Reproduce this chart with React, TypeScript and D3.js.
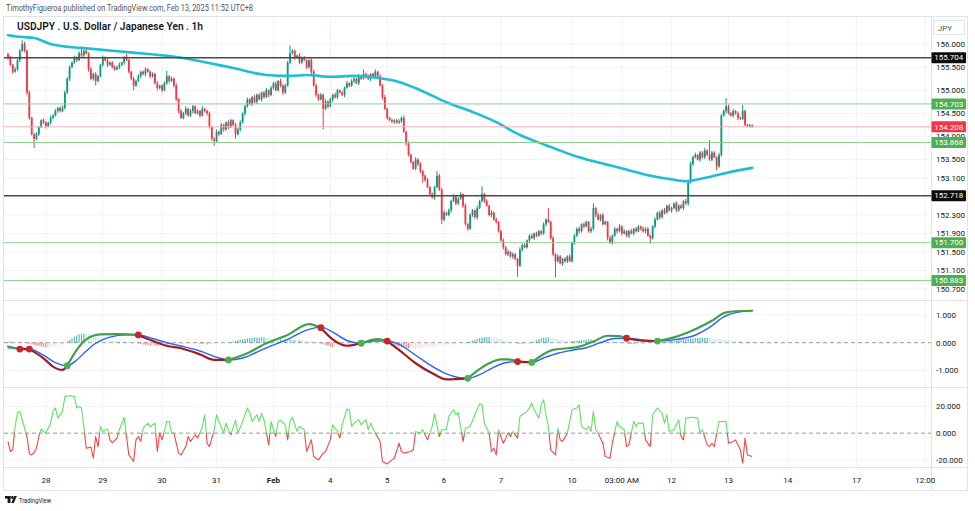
import React from 'react';
import * as d3 from 'd3';

// hourly closes, bar 0 = Jan 27 ~08:00
const closes = [
  155.70, 155.55, 155.40, 155.45, 155.65, 155.85, 156.00, 155.85, 154.95, 154.40,
  154.05, 153.95, 154.05, 154.20, 154.35, 154.30, 154.22, 154.30, 154.40, 154.45,
  154.55, 154.62, 154.55, 154.62, 154.95, 155.25, 155.50, 155.60, 155.70, 155.65,
  155.80, 155.75, 155.85, 155.80, 155.45, 155.25, 155.35, 155.20, 155.30, 155.55,
  155.70, 155.65, 155.55, 155.60, 155.50, 155.45, 155.50, 155.55, 155.60, 155.70,
  155.65, 155.40, 155.25, 155.10, 155.20, 155.30, 155.40, 155.35, 155.45, 155.40,
  155.30, 155.35, 155.15, 155.05, 155.10, 155.00, 155.15, 155.30, 155.20, 155.25,
  155.10, 154.80, 154.55, 154.40, 154.50, 154.60, 154.45, 154.55, 154.65, 154.50,
  154.55, 154.45, 154.60, 154.55, 154.50, 154.20, 153.95, 153.90, 154.10, 154.05,
  154.25, 154.15, 154.30, 154.20, 154.35, 154.25, 154.05, 154.15, 154.30, 154.50,
  154.65, 154.80, 154.70, 154.85, 154.75, 154.90, 154.80, 154.95, 154.85, 155.00,
  154.90, 155.05, 155.15, 155.00, 155.20, 155.10, 154.95, 155.10, 155.60, 155.80,
  155.85, 155.70, 155.75, 155.60, 155.70, 155.65, 155.50, 155.65, 155.40, 155.10,
  154.90, 154.80, 154.90, 154.60, 154.75, 154.65, 154.80, 154.90, 154.85, 155.00,
  154.95, 154.90, 155.05, 155.15, 155.10, 155.20, 155.25, 155.15, 155.30, 155.25,
  155.35, 155.30, 155.25, 155.35, 155.30, 155.40, 155.30, 155.10, 154.85, 154.60,
  154.40, 154.35, 154.32, 154.35, 154.30, 154.33, 154.40, 154.10, 153.85, 153.60,
  153.45, 153.30, 153.50, 153.40, 153.25, 153.15, 153.05, 152.90, 152.75, 152.68,
  152.90, 153.15, 152.85, 152.20, 152.35, 152.30, 152.40, 152.60, 152.70, 152.55,
  152.65, 152.75, 152.50, 152.10, 152.00, 152.30, 152.40, 152.25, 152.45, 152.60,
  152.75, 152.60, 152.50, 152.30, 152.35, 152.20, 152.15, 151.95, 151.75, 151.60,
  151.45, 151.50, 151.40, 151.45, 151.35, 151.20, 151.55, 151.65, 151.60, 151.75,
  151.85, 151.80, 151.90, 151.85, 151.95, 151.90, 152.10, 152.20, 152.15, 151.80,
  151.45, 151.30, 151.40, 151.25, 151.35, 151.30, 151.40, 151.30, 151.70, 151.85,
  152.00, 151.95, 152.10, 152.05, 152.15, 151.95, 152.00, 152.45, 152.30, 152.20,
  152.30, 152.10, 152.15, 151.80, 151.70, 151.85, 152.00, 151.95, 152.05, 151.90,
  151.95, 151.85, 151.95, 151.90, 152.00, 151.95, 152.05, 152.00, 151.95, 152.00,
  151.85, 151.80, 152.05, 152.20, 152.35, 152.25, 152.40, 152.35, 152.50, 152.40,
  152.45, 152.55, 152.40, 152.50, 152.45, 152.60, 152.55, 153.00, 153.40, 153.55,
  153.60, 153.50, 153.65, 153.55, 153.70, 153.60, 153.50, 153.65, 153.55, 153.35,
  153.60, 154.45, 154.55, 154.65, 154.50, 154.45, 154.55, 154.50, 154.40, 154.38,
  154.55, 154.25, 154.22, 154.24, 154.208,
];
const firstOpen = 155.78;

// wick lengths above / below the body, in 0.01 JPY
const wickUp = [
  3, 4, 2, 5, 3, 4, 8, 5, 3, 4, 2, 3, 4, 3, 2,
  4, 3, 2, 5, 3, 4, 2, 3, 5, 4, 3, 4, 2, 5, 3,
  4, 15, 3, 4, 2, 5, 3, 4, 3, 2, 5, 3, 4, 2, 3,
  4, 3, 5, 2, 4, 8, 3, 2, 4, 3, 5, 2, 3, 4, 3,
  2, 4, 3, 5, 2, 3, 4, 12, 3, 4, 2, 5, 3, 4, 3,
  5, 2, 4, 3, 2, 4, 3, 5, 2, 3, 4, 2, 3, 5, 3,
  4, 2, 3, 5, 3, 2, 4, 3, 5, 2, 3, 4, 3, 2, 5,
  3, 4, 2, 3, 5, 2, 4, 3, 4, 2, 5, 3, 4, 3, 17,
  4, 3, 2, 5, 3, 4, 2, 3, 4, 5, 3, 2, 4, 3, 5,
  3, 4, 2, 5, 3, 2, 4, 3, 5, 2, 4, 3, 2, 5, 3,
  10, 3, 4, 2, 3, 5, 2, 4, 3, 5, 2, 3, 4, 2, 3,
  4, 3, 5, 2, 4, 3, 2, 5, 3, 4, 2, 3, 5, 2, 4,
  3, 10, 4, 3, 5, 2, 4, 3, 5, 2, 3, 4, 2, 5, 3,
  4, 3, 2, 5, 3, 17, 3, 4, 2, 5, 3, 4, 2, 3, 4,
  3, 5, 2, 4, 3, 2, 5, 3, 4, 2, 3, 5, 2, 4, 3,
  2, 4, 3, 25, 3, 4, 2, 5, 3, 2, 4, 3, 5, 2, 4,
  3, 5, 2, 4, 3, 2, 4, 10, 3, 5, 2, 4, 3, 2, 5,
  3, 4, 2, 5, 3, 4, 2, 3, 5, 2, 4, 3, 2, 5, 3,
  4, 2, 3, 5, 2, 4, 3, 5, 2, 4, 3, 2, 5, 3, 4,
  2, 5, 4, 6, 3, 5, 2, 4, 3, 5, 2, 32, 4, 3, 2,
  5, 4, 3, 18, 4, 3, 5, 2, 4, 3, 13, 3, 2, 3, 2,
];
const wickDn = [
  4, 3, 5, 2, 3, 4, 2, 3, 5, 4, 3, 20, 3, 4, 2,
  3, 5, 2, 4, 3, 2, 4, 3, 2, 4, 3, 5, 2, 3, 4,
  2, 3, 4, 2, 5, 3, 4, 10, 3, 2, 4, 3, 5, 2, 3,
  3, 2, 4, 3, 5, 2, 4, 3, 10, 3, 2, 4, 3, 5, 2,
  4, 3, 2, 5, 3, 4, 2, 3, 5, 2, 4, 3, 5, 2, 3,
  4, 2, 3, 5, 2, 3, 4, 2, 3, 5, 3, 4, 10, 3, 4,
  2, 5, 3, 4, 2, 3, 10, 3, 4, 2, 5, 3, 2, 4, 3,
  5, 2, 4, 3, 2, 5, 3, 4, 2, 3, 4, 5, 3, 2, 4,
  3, 5, 2, 4, 3, 2, 4, 3, 5, 2, 4, 3, 2, 45, 3,
  4, 2, 5, 3, 4, 2, 3, 5, 2, 4, 3, 5, 2, 4, 3,
  2, 4, 3, 5, 2, 3, 4, 2, 5, 3, 4, 2, 3, 5, 2,
  3, 4, 2, 5, 3, 4, 2, 3, 4, 5, 15, 3, 2, 4, 3,
  5, 2, 3, 10, 4, 2, 3, 5, 2, 4, 3, 2, 5, 3, 4,
  2, 4, 3, 5, 2, 3, 4, 2, 3, 5, 2, 4, 3, 2, 5,
  3, 4, 2, 5, 3, 24, 3, 4, 2, 3, 5, 2, 4, 3, 2,
  4, 3, 5, 2, 3, 4, 35, 3, 2, 5, 3, 4, 2, 3, 4,
  2, 5, 3, 4, 2, 3, 4, 3, 5, 2, 4, 3, 2, 5, 3,
  4, 2, 5, 3, 4, 2, 3, 5, 2, 4, 3, 2, 4, 3, 5,
  2, 12, 3, 4, 2, 5, 3, 4, 2, 3, 5, 2, 4, 3, 2,
  4, 3, 5, 2, 4, 3, 2, 5, 3, 4, 2, 3, 4, 2, 8,
  3, 4, 2, 5, 3, 2, 4, 3, 5, 2, 3, 4, 2, 3, 2,
];

// long moving average (cyan), [bar, price]
const ema: [number, number][] = [
  [0, 156.19], [6, 156.15], [11, 156.13], [18, 156.0], [25, 155.94], [32, 155.91],
  [49, 155.83], [71, 155.72], [95, 155.48], [109, 155.33], [119, 155.31], [126, 155.33],
  [136, 155.29], [146, 155.31], [157, 155.26], [165, 155.18], [174, 155.0], [185, 154.74],
  [196, 154.53], [206, 154.31], [216, 154.03], [227, 153.81], [238, 153.6], [248, 153.45],
  [258, 153.32], [270, 153.16], [279, 153.08], [286, 153.03], [292, 153.08], [296, 153.12],
  [303, 153.21], [314, 153.32],
];

// horizontal levels drawn on the chart
const levelValues = [155.704, 154.703, 154.208, 153.868, 152.718, 151.7, 150.883];
const levelKinds = ['key', 'zone', 'last', 'zone', 'key', 'zone', 'zone'];

const priceTicks = [156, 155.5, 155, 154.5, 154, 153.5, 153.1, 152.3, 151.9, 151.5, 151.1, 150.7];

// MACD line and signal, [bar, value]
const macd: [number, number][] = [
  [0, -0.14], [5, -0.23], [9, -0.23], [15, -0.56], [19, -0.86], [23, -0.98], [25, -0.83],
  [29, -0.26], [33, 0.12], [39, 0.3], [47, 0.31], [55, 0.28], [61, 0.07], [67, -0.11],
  [73, -0.2], [81, -0.42], [87, -0.62], [93, -0.62], [101, -0.38], [109, -0.02], [118, 0.28],
  [127, 0.67], [132, 0.54], [137, 0.12], [143, -0.11], [149, -0.02], [156, 0.13], [160, 0.06],
  [165, -0.26], [172, -0.74], [179, -1.1], [185, -1.32], [194, -1.28], [199, -0.95],
  [203, -0.74], [208, -0.6], [211, -0.6], [215, -0.68], [221, -0.71], [230, -0.26],
  [236, -0.2], [241, -0.14], [247, 0.04], [253, 0.25], [258, 0.24], [261, 0.16], [268, 0.07],
  [274, 0.06], [281, 0.19], [286, 0.34], [297, 0.79], [303, 1.09], [309, 1.14], [314, 1.15],
];
const signal: [number, number][] = [
  [0, -0.18], [9, -0.22], [15, -0.45], [20, -0.72], [25, -0.83], [29, -0.62], [33, -0.3],
  [37, -0.02], [43, 0.2], [50, 0.28], [55, 0.28], [61, 0.15], [67, 0.0], [73, -0.12],
  [81, -0.3], [88, -0.52], [93, -0.62], [99, -0.55], [104, -0.38], [110, -0.15], [118, 0.12],
  [126, 0.45], [132, 0.56], [137, 0.38], [143, 0.08], [149, -0.02], [154, 0.06], [160, 0.06],
  [165, -0.06], [172, -0.45], [179, -0.85], [185, -1.12], [190, -1.25], [194, -1.28],
  [199, -1.15], [204, -0.92], [210, -0.72], [215, -0.68], [221, -0.71], [226, -0.55],
  [232, -0.38], [238, -0.27], [244, -0.18], [250, 0.0], [256, 0.15], [261, 0.16], [268, 0.1],
  [274, 0.06], [282, 0.12], [289, 0.24], [296, 0.55], [302, 0.93], [308, 1.1], [314, 1.15],
];
const crossBars = [5, 9, 25, 55, 93, 132, 149, 160, 194, 215, 221, 261, 274];
const crossUp = [false, false, true, false, true, false, true, false, true, false, true, false, true];

// MACD histogram per bar, in 0.01
const hist = [
  4, 5, 4, 3, 1,
  -1, 0, -1, -2,
  -4, -6, -8, -10, -12, -14, -15, -16, -15, -14, -13, -12, -10, -8, -5, -2,
  4, 10, 16, 22, 26, 30, 32, 33, 32, 30, 27, 24, 20, 16,
  13, 11, 9, 8, 7, 6, 5, 4, 4, 3, 3, 2, 2, 1, 1, 0,
  -3, -5, -7, -8, -9, -10, -10, -11, -12, -12, -11, -10, -9, -8, -8, -7,
  -6, -6, -5, -5, -4, -4, -4, -3, -3, -3, -4, -5, -5, -6, -6, -5, -5, -4, -3, -2, -1, -1,
  1, 3, 5, 7, 9, 11, 12, 14, 15, 16, 17, 18, 18, 19, 19, 19, 18, 17,
  16, 15, 14, 13, 13, 12, 12, 11, 11, 10, 10, 9, 9, 8, 7, 6, 5, 4, 3, 2, 1,
  -3, -6, -9, -12, -14, -15, -15, -14, -13, -11, -10, -8, -7, -5, -4, -3, -1,
  2, 4, 5, 6, 6, 5, 4, 3, 2, 1, 1,
  -2, -4, -6, -9, -12, -15, -17, -18, -19, -20, -20, -20, -19, -19, -18, -17, -17, -16, -15, -14,
  -13, -12, -11, -10, -9, -8, -7, -6, -5, -4, -3, -2, -2, -1,
  2, 5, 8, 11, 14, 17, 19, 20, 21, 21, 20, 19, 17, 15, 13, 11, 9, 7, 5, 3, 1,
  -2, -4, -5, -5, -4, -2,
  2, 5, 9, 13, 16, 18, 19, 19, 18, 17, 15, 13, 11, 9, 8, 7, 6, 6, 6, 7,
  8, 9, 10, 11, 12, 12, 11, 10, 9, 8, 7, 6, 5, 4, 4, 3, 3, 2, 1, 1,
  -2, -4, -5, -6, -6, -6, -5, -5, -4, -3, -2, -2, -1,
  1, 2, 3, 4, 5, 6, 7, 8, 9, 10, 11, 12, 13, 14, 15, 16, 17, 17, 18, 18,
  18, 18, 17, 16, 15, 14, 13, 12, 11, 10, 9, 8, 7, 6, 5, 5, 4, 3, 3, 2, 2,
];

// lower oscillator, [bar, value]
const osc: [number, number][] = [
  [0, -6.2], [1, -13.7], [2, -12.4], [3, 5], [4, 15.4], [5, 16.2], [6, 10], [8, -2.5], [9, -15.4],
  [10, -16.2], [11, -14.4], [12, -11.2], [13, -2.5], [14, 3], [15, 1.2], [16, 0], [18, 7.5],
  [19, 16.2], [20, 18.7], [21, 11.2], [23, 16.2], [24, 27.4], [26, 27.9], [28, 27.4], [29, 18.7],
  [30, 19.9], [31, 18.7], [32, 5], [33, -11.2], [35, -10.4], [36, -18.7], [37, -2.5], [38, -10],
  [39, 5], [40, 1.2], [42, 3], [43, -5], [44, -7], [46, -3.7], [47, 2.5], [49, 11.9], [50, -2.5],
  [51, -16.2], [53, -21.1], [54, -5], [55, -2.5], [56, -6.2], [57, 3.7], [59, 7.5], [60, 5],
  [62, 7.5], [63, -13.7], [64, 0], [65, -5], [67, 8.7], [68, 8.7], [69, 0], [70, 0], [72, -14.9],
  [73, -16.2], [75, -10], [76, -2.5], [77, -6.2], [79, -1.2], [80, -3.7], [82, 5], [83, 13.7],
  [84, -7.5], [85, -10], [87, 2.5], [88, 13.7], [89, 8.7], [91, 0], [92, 7.5], [93, 2.5],
  [94, -1.2], [96, 9.5], [97, 0], [99, 8.7], [101, 18.7], [102, 15.4], [103, 8.7], [105, 13.7],
  [106, 8.7], [107, 14.9], [108, 10], [110, -8.7], [111, 8.7], [113, -2.5], [114, 8.7], [115, 9.5],
  [117, 6.2], [118, -5], [119, 8.7], [120, 11.9], [122, 1.2], [123, 5], [125, 2.5], [126, -13.7],
  [128, -5], [129, -17.4], [131, -19.9], [133, -14.9], [134, -13.7], [136, -5], [137, 6.2],
  [139, 1.2], [140, -3.7], [141, 6.2], [143, 17.9], [144, 17.4], [145, 5], [146, 7.5], [148, 10],
  [149, 6.2], [151, 10], [152, 2.5], [153, 7.5], [155, 0], [157, -6.2], [158, -21.1], [160, -22.9],
  [162, -19.9], [163, -18.7], [165, -7.5], [166, -13.7], [167, -14.9], [170, -13.7], [171, -12.4],
  [172, 1.2], [174, 0], [175, 2.5], [177, -5], [179, 5], [180, 14.4], [182, -2.5], [183, 2.5],
  [185, 2.5], [186, 12.4], [188, 17.4], [189, 13.7], [190, 15.4], [192, -6.2], [193, 3.7], [195, 5],
  [197, 13.7], [199, 22], [200, 21.1], [201, 7.5], [203, 0], [204, -13.7], [205, -11.2],
  [206, -16.2], [207, 2.5], [209, -7.5], [210, -3.7], [211, 0.5], [212, -2.5], [213, 1.2],
  [215, -3.7], [216, 12.4], [217, 13.7], [219, 16.2], [220, 18.7], [221, 22.4], [222, 17.4],
  [224, 11.2], [225, 21.1], [226, 24.9], [227, 13.7], [228, 5], [229, -12.4], [231, -16.2],
  [232, 3.7], [233, -5], [234, -6.2], [236, 0], [238, 17.4], [240, 18.7], [241, 21.1], [242, 5],
  [244, 2.5], [245, 5], [246, 1.2], [247, 16.2], [248, 2.5], [249, 0], [251, -7.5], [252, -17.4],
  [254, -18.7], [255, -7.5], [257, 8.7], [258, 5], [260, 2.5], [261, -10], [262, -8.7], [264, 8.7],
  [265, 5], [266, 7.5], [268, 7.5], [269, -5], [271, -10], [272, 13.7], [274, 18.7], [276, 14.9],
  [277, 7.5], [278, 13.7], [279, 1.2], [281, 2.5], [283, 10], [284, -2.5], [285, -5], [286, 11.2],
  [289, 11.9], [291, 11.2], [292, 0], [293, 2.5], [295, -8.7], [296, -10], [297, -7.5], [298, -10],
  [300, 8.7], [303, 8.7], [304, -7.5], [306, -6.2], [307, -5], [309, -12.4], [310, -22.4],
  [311, -3.7], [312, -16.2], [314, -17.4],
];

const timeBars = [16, 40, 65, 88, 112, 136, 160, 184, 208, 238, 259, 280, 304, 329, 358, 387];
const timeLabels = ['28', '29', '30', '31', 'Feb', '4', '5', '6', '7', '10', '03:00 AM', '12', '13', '14', '17', '12:00'];

const W = 975;
const H = 511;
const plotL = 4;
const plotR = 931;
const axisR = 967;
const mainTop = 17;
const mainBot = 300;
const macdBot = 387;
const oscBot = 467;
const frameBot = 490;
const FONT = 'Roboto, "Liberation Sans", Arial, sans-serif';

const UP = '#089981';
const DOWN = '#f23645';
const GRID = '#f0f3fa';
const BORDER = '#e0e3eb';

export default function App() {
  const x = d3.scaleLinear().domain([0, 387]).range([8, 8 + 387 * 2.37]);
  const yP = d3.scaleLinear().domain([150.7, 156]).range([288.9, 44]);
  const yM = d3.scaleLinear().domain([-1, 1]).range([370.5, 314.9]);
  const yO = d3.scaleLinear().domain([-20, 20]).range([460, 406.3]);

  const candles = closes.map((c, i) => {
    const o = i === 0 ? firstOpen : closes[i - 1];
    return { i, o, c, h: Math.max(o, c) + wickUp[i] / 100, l: Math.min(o, c) - wickDn[i] / 100 };
  });

  const emaPath = d3.line<[number, number]>().x(d => x(d[0])).y(d => yP(d[1])).curve(d3.curveMonotoneX)(ema) || '';
  const macdGen = d3.line<[number, number]>().x(d => x(d[0])).y(d => yM(d[1])).curve(d3.curveMonotoneX);
  const signalPath = macdGen(signal) || '';

  const bounds = [0, ...crossBars, macd[macd.length - 1][0]];
  const macdSegs = bounds.slice(0, -1).map((b0, k) => ({
    pts: macd.filter(p => p[0] >= b0 && p[0] <= bounds[k + 1]),
    up: k === 0 ? true : crossUp[k - 1],
  }));
  const dots = crossBars.map((b, k) => ({ b, v: (macd.find(p => p[0] === b) || [b, 0])[1], up: crossUp[k] }));

  // split the oscillator into runs above / below zero
  const oscRuns: { pts: [number, number][]; up: boolean }[] = [];
  const push = (a: [number, number], b: [number, number], up: boolean) => {
    const last = oscRuns[oscRuns.length - 1];
    if (last && last.up === up) last.pts.push(b);
    else oscRuns.push({ pts: [a, b], up });
  };
  for (let k = 0; k < osc.length - 1; k++) {
    const a = osc[k];
    const b = osc[k + 1];
    const ua = a[1] >= 0;
    const ub = b[1] >= 0;
    if (ua === ub) push(a, b, ua);
    else {
      const t = a[1] / (a[1] - b[1]);
      const m: [number, number] = [a[0] + t * (b[0] - a[0]), 0];
      push(a, m, ua);
      push(m, b, ub);
    }
  }
  const oscGen = d3.line<[number, number]>().x(d => x(d[0])).y(d => yO(d[1]));

  const levelStyle: Record<string, { line: string; w: number; bg: string }> = {
    key: { line: '#4a4a4a', w: 1.5, bg: '#0c0c0c' },
    zone: { line: '#8fcf91', w: 1, bg: '#4caf50' },
    last: { line: '#f7b0b6', w: 1, bg: '#f23645' },
  };

  const histColor = (i: number) => {
    const h = hist[i];
    const p = i > 0 ? hist[i - 1] : h;
    if (h >= 0) return h >= p ? '#26a69a' : '#b2dfdb';
    return h < p ? '#ff5252' : '#ffcdd2';
  };

  return (
    <svg width={W} height={H} style={{ position: 'absolute', left: 0, top: 0, background: '#fff' }} fontFamily={FONT}>
      <defs>
        <clipPath id="cMain"><rect x={plotL} y={mainTop} width={plotR - plotL} height={mainBot - mainTop} /></clipPath>
        <clipPath id="cMacd"><rect x={plotL} y={mainBot + 1} width={plotR - plotL} height={macdBot - mainBot - 1} /></clipPath>
        <clipPath id="cOsc"><rect x={plotL} y={macdBot + 1} width={plotR - plotL} height={oscBot - macdBot - 1} /></clipPath>
      </defs>
      <rect x={0} y={0} width={W} height={H} fill="#fff" />

      <text x={6} y={11} fontSize={8.4} fill="#50535e" textLength={247} lengthAdjust="spacingAndGlyphs">
        TimothyFigueroa published on TradingView.com, Feb 13, 2025 11:52 UTC+8
      </text>

      {/* grid */}
      {timeBars.map(b => (
        <line key={'vg' + b} x1={x(b)} x2={x(b)} y1={mainTop} y2={oscBot} stroke={GRID} />
      ))}
      {priceTicks.map(t => (
        <line key={'hg' + t} x1={plotL} x2={plotR} y1={yP(t)} y2={yP(t)} stroke={GRID} />
      ))}
      {[1, -1].map(t => (
        <line key={'mg' + t} x1={plotL} x2={plotR} y1={yM(t)} y2={yM(t)} stroke={GRID} />
      ))}
      {[20, -20].map(t => (
        <line key={'og' + t} x1={plotL} x2={plotR} y1={yO(t)} y2={yO(t)} stroke={GRID} />
      ))}

      {/* frame */}
      <rect x={3.5} y={16.5} width={axisR - 3} height={frameBot - 16} fill="none" stroke={BORDER} />
      <line x1={plotR + 0.5} x2={plotR + 0.5} y1={16.5} y2={frameBot + 0.5} stroke={BORDER} />
      {[mainBot, macdBot, oscBot].map(y => (
        <line key={'sep' + y} x1={3.5} x2={axisR + 0.5} y1={y + 0.5} y2={y + 0.5} stroke={BORDER} />
      ))}

      <text x={17} y={30} fontSize={11} fontWeight={600} fill="#131722" textLength={186} lengthAdjust="spacingAndGlyphs">
        USDJPY . U.S. Dollar / Japanese Yen . 1h
      </text>

      {/* main pane */}
      <g clipPath="url(#cMain)">
        {candles.map(d => {
          const col = d.c >= d.o ? UP : DOWN;
          const top = yP(Math.max(d.o, d.c));
          const hgt = Math.max(1, Math.abs(yP(d.o) - yP(d.c)));
          return (
            <g key={d.i}>
              <line x1={x(d.i)} x2={x(d.i)} y1={yP(d.h)} y2={yP(d.l)} stroke={col} strokeWidth={1} />
              <rect x={x(d.i) - 0.9} y={top} width={1.8} height={hgt} fill={col} />
            </g>
          );
        })}
        <path d={emaPath} fill="none" stroke="#1dbfd0" strokeWidth={2.6} strokeLinecap="round" />
        {levelValues.map((v, k) => (
          <line key={'lv' + v} x1={plotL} x2={plotR} y1={yP(v)} y2={yP(v)}
            stroke={levelStyle[levelKinds[k]].line} strokeWidth={levelStyle[levelKinds[k]].w} />
        ))}
      </g>

      {/* MACD pane */}
      <g clipPath="url(#cMacd)">
        <line x1={plotL} x2={plotR} y1={yM(0)} y2={yM(0)} stroke="#9598a1" strokeDasharray="4 3" />
        {hist.map((h, i) => (
          <rect key={'h' + i} x={x(i) - 0.6} width={1.2}
            y={Math.min(yM(0), yM(h / 100))} height={Math.abs(yM(h / 100) - yM(0))}
            fill={histColor(i)} opacity={0.75} />
        ))}
        <path d={signalPath} fill="none" stroke="#2962ff" strokeWidth={1.4} />
        {macdSegs.map((s, k) => (
          <path key={'ms' + k} d={macdGen(s.pts) || ''} fill="none"
            stroke={s.up ? '#43a047' : '#a31c22'} strokeWidth={2.2} strokeLinecap="round" />
        ))}
        {dots.map(d => (
          <circle key={'dot' + d.b} cx={x(d.b)} cy={yM(d.v)} r={3.4} fill={d.up ? '#4caf50' : '#c3262c'} />
        ))}
      </g>

      {/* oscillator pane */}
      <g clipPath="url(#cOsc)">
        <line x1={plotL} x2={plotR} y1={yO(0)} y2={yO(0)} stroke="#9598a1" strokeDasharray="4 3" />
        {oscRuns.map((r, k) => (
          <path key={'or' + k} d={oscGen(r.pts) || ''} fill="none"
            stroke={r.up ? '#5fe35f' : '#f44646'} strokeWidth={1.1} strokeLinejoin="round" />
        ))}
      </g>

      {/* price axis */}
      <rect x={933.5} y={20.5} width={31} height={14} fill="#fff" stroke={BORDER} />
      <text x={945} y={30.5} fontSize={8} fill="#50535e" textAnchor="middle">JPY</text>
      {priceTicks.map(t => (
        <text key={'pt' + t} x={936} y={yP(t)} dy="0.35em" fontSize={8} fill="#131722">
          {t.toFixed(3)}
        </text>
      ))}
      {levelValues.map((v, k) => (
        <g key={'lb' + v}>
          <rect x={931.5} y={yP(v) - 5.5} width={34.5} height={11} rx={1} fill={levelStyle[levelKinds[k]].bg} />
          <text x={948.7} y={yP(v)} dy="0.35em" fontSize={8} fill="#fff" textAnchor="middle">
            {v.toFixed(3)}
          </text>
        </g>
      ))}
      {[1, 0, -1].map(t => (
        <text key={'ma' + t} x={936} y={yM(t)} dy="0.35em" fontSize={8} fill="#131722">{t.toFixed(3)}</text>
      ))}
      {[20, 0, -20].map(t => (
        <text key={'oa' + t} x={936} y={yO(t)} dy="0.35em" fontSize={8} fill="#131722">{t.toFixed(3)}</text>
      ))}

      {/* time axis */}
      {timeBars.map((b, k) => (
        <text key={'tl' + b} x={x(b)} y={483} fontSize={8} fill="#131722" textAnchor="middle"
          fontWeight={timeLabels[k] === 'Feb' ? 700 : 400}>
          {timeLabels[k]}
        </text>
      ))}

      {/* logo */}
      <g fill="#131722">
        <rect x={5} y={496} width={5.5} height={2.6} />
        <rect x={7.6} y={496} width={2.9} height={7} />
        <circle cx={12.4} cy={497.5} r={1.4} />
        <path d="M11.2 503 L14.3 496 L16.9 496 L13.8 503 Z" />
      </g>
      <text x={19} y={503} fontSize={7.6} fill="#131722" textLength={32} lengthAdjust="spacingAndGlyphs">TradingView</text>
    </svg>
  );
}
